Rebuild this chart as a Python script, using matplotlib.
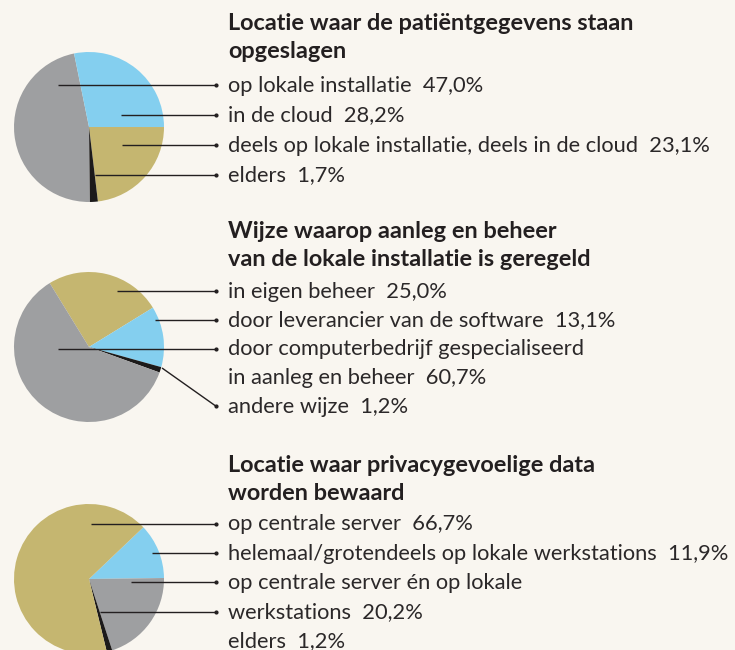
import matplotlib
matplotlib.use("Agg")
import matplotlib.pyplot as plt

# colours
GRAY = "#9e9fa1"
BLUE = "#84cfef"
TAN = "#c5b670"
BLACK = "#1c1a1a"
BG = "#f9f6f0"
INK = "#231f20"

# chart 1
title1 = ["Locatie waar de patiëntgegevens staan", "opgeslagen"]
labels1 = ["op lokale installatie", "in de cloud",
           "deels op lokale installatie, deels in de cloud", "elders"]
values1 = [47.0, 28.2, 23.1, 1.7]
colors1 = [GRAY, BLUE, TAN, BLACK]

# chart 2
title2 = ["Wijze waarop aanleg en beheer", "van de lokale installatie is geregeld"]
labels2 = ["in eigen beheer", "door leverancier van de software",
           "door computerbedrijf gespecialiseerd\nin aanleg en beheer", "andere wijze"]
values2 = [25.0, 13.1, 60.7, 1.2]
colors2 = [TAN, BLUE, GRAY, BLACK]

# chart 3
title3 = ["Locatie waar privacygevoelige data", "worden bewaard"]
labels3 = ["op centrale server", "helemaal/grotendeels op lokale werkstations",
           "op centrale server én op lokale\nwerkstations", "elders"]
values3 = [66.7, 11.9, 20.2, 1.2]
colors3 = [TAN, BLUE, GRAY, BLACK]

W, H = 735, 650
fig = plt.figure(figsize=(W / 100, H / 100), dpi=100)
fig.patch.set_facecolor(BG)
ax = fig.add_axes([0, 0, 1, 1])

FONT = "Lato"
FS = 15.75
FS_B = 16.9
TX = 228     # left edge of the text column
DOT_X = 216  # end of the leader lines


def fmt(v):
    return f"{v:.1f}".replace(".", ",") + "%"


def draw_block(title, labels, values, colors, order, start, cy,
               tbase, first, step, leaders):
    # pie, wedges drawn clockwise in the given order
    ax.pie([values[i] for i in order], colors=[colors[i] for i in order],
           startangle=start, counterclock=False, center=(89, H - cy), radius=75,
           wedgeprops=dict(linewidth=0), frame=True)
    for k, t in enumerate(title):
        ax.text(TX, H - (tbase + 28 * k), t, fontsize=FS_B, fontweight="bold",
                color=INK, family=FONT, va="baseline", ha="left")
    rows = []
    for lab, v in zip(labels, values):
        rows.extend((lab + "  " + fmt(v)).split("\n"))
    for r, ln in enumerate(rows):
        ax.text(TX, H - (first + r * step + 6.5), ln, fontsize=FS, color="#2b2829",
                family=FONT, va="baseline", ha="left")
    # leader lines: (start x, start y or None, text row)
    for sx, sy, r in leaders:
        ey = first + r * step
        if sy is None:
            sy = ey
        ax.plot([sx, DOT_X], [H - sy, H - ey], color=INK, lw=1.0,
                solid_capstyle="butt")
        ax.plot(DOT_X, H - ey, "o", color=INK, ms=2.0)


draw_block(title1, labels1, values1, colors1, [0, 1, 2, 3], 270.7, 127,
           30.5, 85, 30,
           [(58, None, 0), (121, None, 1), (122, None, 2), (95, None, 3)])
draw_block(title2, labels2, values2, colors2, [0, 1, 3, 2], 121.6, 347,
           237.5, 291, 28.8,
           [(117, None, 0), (155, None, 1), (58, None, 2), (162, 368, 4)])
draw_block(title3, labels3, values3, colors3, [1, 2, 3, 0], 43.6, 579,
           471.5, 524, 29.2,
           [(91, None, 0), (152, None, 1), (131, None, 2), (100, None, 3)])

ax.set_xlim(0, W)
ax.set_ylim(0, H)
ax.set_aspect("equal")
ax.axis("off")
fig.savefig("out.png", dpi=100, facecolor=BG)
